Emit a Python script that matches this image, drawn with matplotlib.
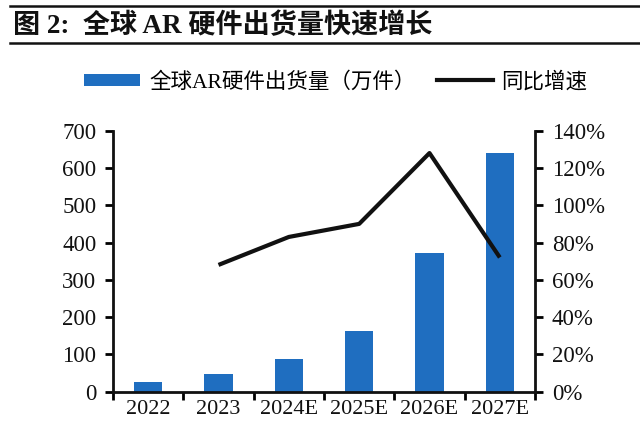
import matplotlib
matplotlib.use("Agg")
import matplotlib.pyplot as plt
from matplotlib.lines import Line2D
from matplotlib.patches import Patch
from matplotlib.ticker import FixedLocator, FuncFormatter

categories = ["2022", "2023", "2024E", "2025E", "2026E", "2027E"]
shipments = [27, 47, 87, 164, 371, 641]           # 万件
growth = [None, 68, 83, 90, 128, 72]              # %

BAR_COLOR = "#1f6ec0"
SERIF = ["Liberation Serif", "Noto Sans CJK SC"]
CJK = ["Liberation Serif", "Noto Sans CJK SC"]

fig = plt.figure(figsize=(6.4, 4.25), dpi=100)
ax = fig.add_axes([0.1766, 0.0784, 0.8359 - 0.1766, 0.6925 - 0.0784])
ax2 = ax.twinx()

x = list(range(len(categories)))
ax.bar(x, shipments, width=0.4, color=BAR_COLOR, zorder=2)
gx = [i for i, g in zip(x, growth) if g is not None]
gy = [g for g in growth if g is not None]
ax2.plot(gx, gy, color="#111111", lw=3.0, solid_capstyle="butt", zorder=3)

ax.set_xlim(-0.5, len(categories) - 0.5)
ax.set_ylim(0, 700)
ax2.set_ylim(0, 140)
ax.set_yticks(range(0, 701, 100))
ax2.set_yticks(range(0, 141, 20))
ax2.yaxis.set_major_formatter(FuncFormatter(lambda v, p: f"{int(v)}%"))

ax.set_xticks(x)
ax.set_xticklabels(categories)
ax.xaxis.set_minor_locator(FixedLocator([i - 0.5 for i in range(len(categories) + 1)]))
ax.tick_params(axis="x", which="major", length=0, pad=6)
ax.tick_params(axis="x", which="minor", length=6, width=2, direction="out")

for a in (ax, ax2):
    a.spines["top"].set_visible(False)
    for s in a.spines.values():
        s.set_linewidth(2)
        s.set_color("#111111")
ax.spines["right"].set_visible(False)
ax2.spines["left"].set_visible(False)
ax2.spines["bottom"].set_visible(False)

ax.tick_params(axis="y", length=6, width=2, direction="out", pad=6)
ax2.tick_params(axis="y", length=6, width=2, direction="out", pad=6)

for lbl in ax.get_yticklabels() + ax2.get_yticklabels():
    lbl.set_fontfamily(SERIF)
    lbl.set_fontsize(16.5)
    lbl.set_color("#111111")
for lbl in ax.get_xticklabels():
    lbl.set_fontfamily(SERIF)
    lbl.set_fontsize(16)
    lbl.set_color("#111111")

# Title and rules
fig.add_artist(Line2D([0.016, 1.0], [0.986, 0.986], transform=fig.transFigure, color="#111111", lw=1.8))
fig.add_artist(Line2D([0.016, 1.0], [0.899, 0.899], transform=fig.transFigure, color="#111111", lw=1.8))
fig.text(0.02, 0.940, "图 2:  全球 AR 硬件出货量快速增长", fontsize=19.5, fontweight="bold",
         family=SERIF, va="center", ha="left", color="#111111")

# Legend
handles = [Patch(facecolor=BAR_COLOR, edgecolor="none"),
           Line2D([0], [0], color="#111111", lw=3)]
labels = ["全球AR硬件出货量（万件）", "同比增速"]
fig.legend(handles, labels, loc="center", bbox_to_anchor=(0.525, 0.807), ncol=2, frameon=False,
           prop={"family": CJK, "size": 15.5, "weight": "light"}, handlelength=2.6, handleheight=0.5,
           handletextpad=0.4, columnspacing=1.0)

fig.savefig("out.png", dpi=100)
